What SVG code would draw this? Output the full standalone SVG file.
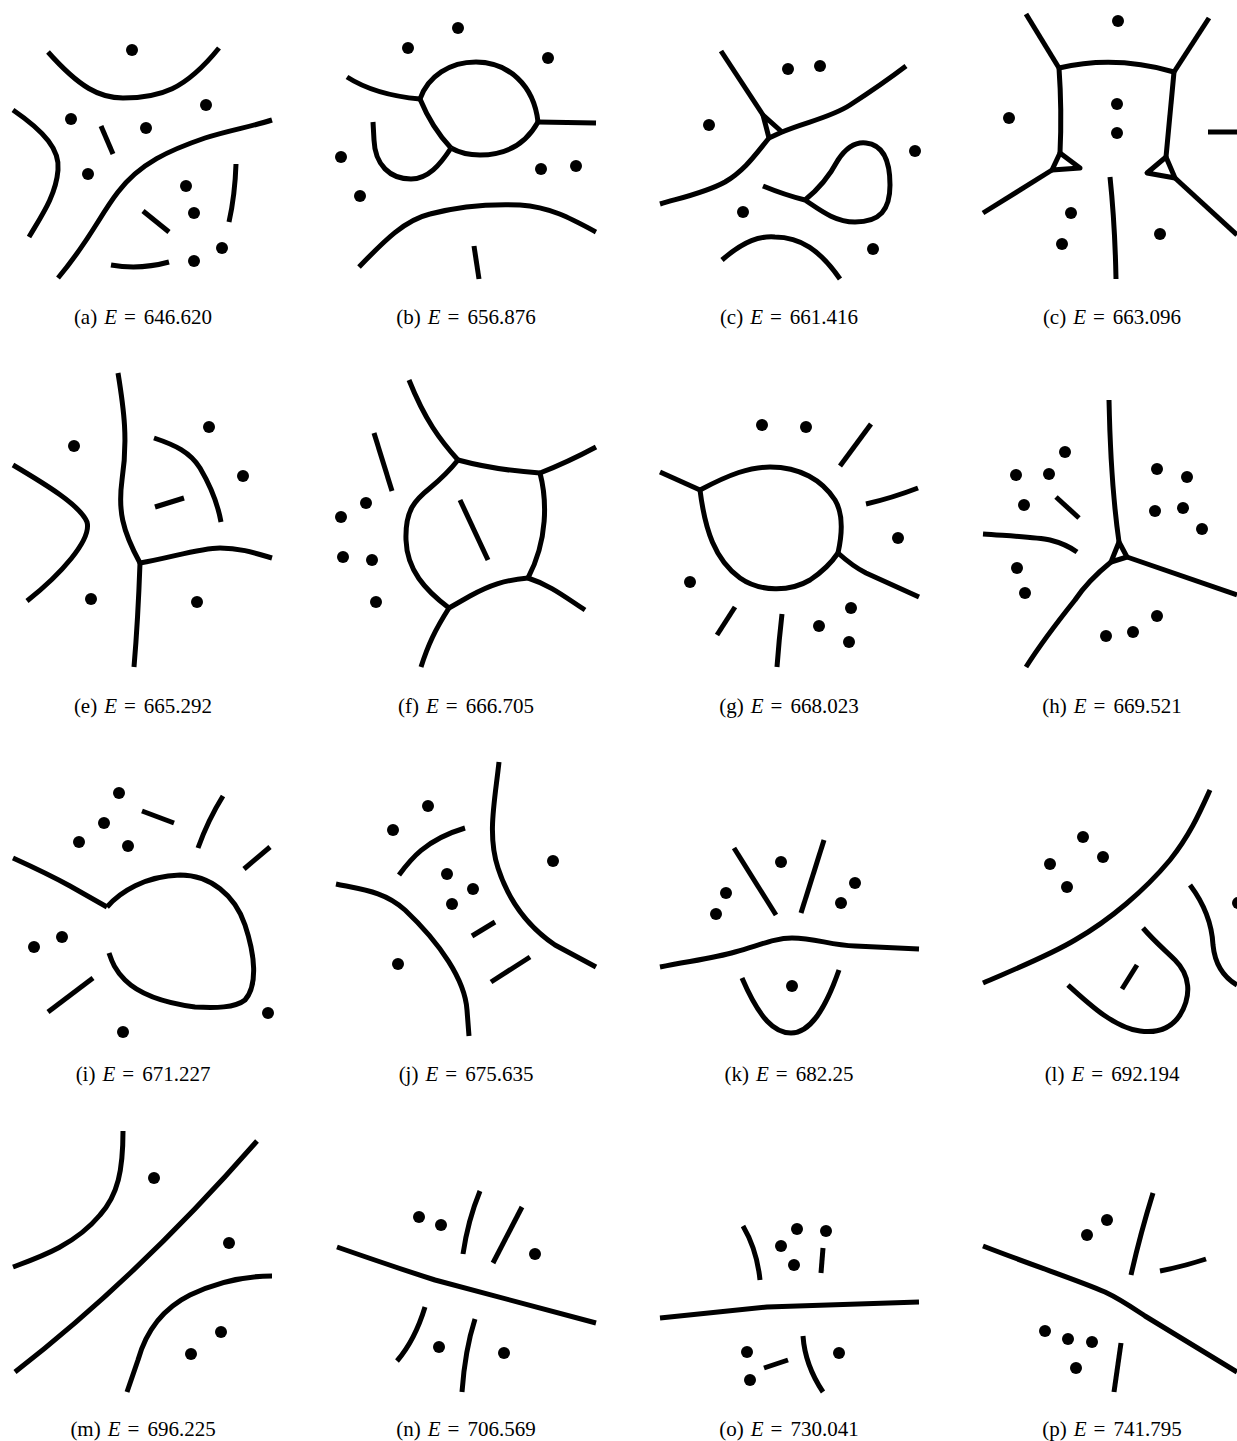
<svg xmlns="http://www.w3.org/2000/svg" width="1237" height="1441" viewBox="0 0 1237 1441">
<style>
.l{fill:none;stroke:#000;stroke-width:5;stroke-linejoin:round;stroke-linecap:butt}
.d{fill:#000}
.cap{font-family:"Liberation Serif","Times New Roman",serif;font-size:21px;fill:#000;text-anchor:middle}
.it{font-style:italic}
</style>
<rect width="1237" height="1441" fill="#fff"/>

<g id="panel-a">
<g class="l">
<path d="M48,52 C80,88 100,98 123,98 C160,98 185,90 219,48"/>
<path d="M13,110 C45,132 60,150 58,170 C56,195 42,215 29,237"/>
<path d="M101,126 L113,154"/>
<path d="M58,278 C90,240 100,215 118,192 C140,163 170,150 205,138 C230,130 250,127 272,120"/>
<path d="M143,211 L169,232"/>
<path d="M236,164 Q235,195 229,222"/>
<path d="M111,265 Q140,270 169,262"/>
</g>
<g class="d">
<circle cx="132" cy="50" r="6"/><circle cx="71" cy="119" r="6"/><circle cx="206" cy="105" r="6"/><circle cx="146" cy="128" r="6"/><circle cx="88" cy="174" r="6"/><circle cx="186" cy="186" r="6"/><circle cx="194" cy="213" r="6"/><circle cx="222" cy="248" r="6"/><circle cx="194" cy="261" r="6"/>
</g>
<text class="cap" x="143" y="324">(a)<tspan class="it" dx="7">E</tspan><tspan dx="7">=</tspan><tspan dx="8">646.620</tspan></text>
</g>

<g id="panel-b">
<g class="l">
<path d="M347,77 Q375,95 420,99"/>
<path d="M420,99 C428,76 450,62 476,62 C508,62 534,85 538,122"/>
<path d="M538,122 C528,140 510,155 480,155 C468,155 458,152 451,148"/>
<path d="M420,99 Q432,128 451,148"/>
<path d="M538,122 L596,123"/>
<path d="M451,148 C440,165 428,179 411,179 C390,179 375,165 374,140 L373,122"/>
<path d="M359,267 C385,240 405,220 430,214 C460,206 495,204 520,205 C550,207 570,218 596,232"/>
<path d="M474,246 L479,279"/>
</g>
<g class="d">
<circle cx="408" cy="48" r="6"/><circle cx="458" cy="28" r="6"/><circle cx="548" cy="58" r="6"/><circle cx="341" cy="157" r="6"/><circle cx="360" cy="196" r="6"/><circle cx="541" cy="169" r="6"/><circle cx="576" cy="166" r="6"/>
</g>
<text class="cap" x="466" y="324">(b)<tspan class="it" dx="7">E</tspan><tspan dx="7">=</tspan><tspan dx="8">656.876</tspan></text>
</g>

<g id="panel-c1">
<g class="l">
<path d="M721,51 L763,115"/>
<path d="M763,115 L769,138 L782,132 Z"/>
<path d="M782,132 C805,122 830,118 850,105 C870,92 885,82 906,66"/>
<path d="M769,138 C755,155 745,170 725,182 C705,193 680,198 660,204"/>
<path d="M763,186 Q785,195 805,200 C820,188 830,175 838,160 C848,145 858,142 866,143 C885,145 890,165 890,185 C890,210 880,222 855,222 C835,222 820,210 805,200"/>
<path d="M722,260 C745,240 760,236 775,237 C800,237 820,250 840,279"/>
</g>
<g class="d">
<circle cx="788" cy="69" r="6"/><circle cx="820" cy="66" r="6"/><circle cx="709" cy="125" r="6"/><circle cx="915" cy="151" r="6"/><circle cx="743" cy="212" r="6"/><circle cx="873" cy="249" r="6"/>
</g>
<text class="cap" x="789" y="324">(c)<tspan class="it" dx="7">E</tspan><tspan dx="7">=</tspan><tspan dx="8">661.416</tspan></text>
</g>

<g id="panel-c2">
<g class="l">
<path d="M1059,68 Q1115,55 1174,72"/>
<path d="M1026,14 L1059,68"/>
<path d="M1209,18 L1174,72"/>
<path d="M1059,68 Q1062,110 1060,153"/>
<path d="M1060,153 L1052,170 L1080,168 Z"/>
<path d="M1052,170 L983,213"/>
<path d="M1174,72 Q1170,115 1166,157"/>
<path d="M1166,157 L1147,173 L1175,178 Z"/>
<path d="M1175,178 L1237,235"/>
<path d="M1208,132 L1237,132"/>
<path d="M1110,177 Q1115,225 1116,279"/>
</g>
<g class="d">
<circle cx="1118" cy="21" r="6"/><circle cx="1009" cy="118" r="6"/><circle cx="1117" cy="104" r="6"/><circle cx="1117" cy="133" r="6"/><circle cx="1071" cy="213" r="6"/><circle cx="1062" cy="244" r="6"/><circle cx="1160" cy="234" r="6"/>
</g>
<text class="cap" x="1112" y="324">(c)<tspan class="it" dx="7">E</tspan><tspan dx="7">=</tspan><tspan dx="8">663.096</tspan></text>
</g>

<g id="panel-e">
<g class="l">
<path d="M13,465 C45,484 80,505 87,522 C92,540 60,575 27,601"/>
<path d="M118,373 C124,410 128,440 122,480 C118,510 122,530 140,563"/>
<path d="M140,563 Q138,620 134,667"/>
<path d="M140,563 C170,558 200,548 220,548 C240,548 255,553 272,558"/>
<path d="M154,438 C175,445 190,452 200,468 C210,485 218,505 221,522"/>
<path d="M155,507 L184,498"/>
</g>
<g class="d">
<circle cx="74" cy="446" r="6"/><circle cx="209" cy="427" r="6"/><circle cx="243" cy="476" r="6"/><circle cx="91" cy="599" r="6"/><circle cx="197" cy="602" r="6"/>
</g>
<text class="cap" x="143" y="713">(e)<tspan class="it" dx="7">E</tspan><tspan dx="7">=</tspan><tspan dx="8">665.292</tspan></text>
</g>

<g id="panel-f">
<g class="l">
<path d="M409,380 C425,420 440,440 458,460"/>
<path d="M458,460 Q495,470 540,473"/>
<path d="M540,473 Q568,462 596,447"/>
<path d="M540,473 C547,500 548,540 528,578"/>
<path d="M528,578 C505,580 490,585 470,596 L449,608"/>
<path d="M528,578 C550,585 565,597 585,610"/>
<path d="M449,608 C425,590 407,570 406,540 C405,510 415,500 430,488 C442,478 450,470 458,460"/>
<path d="M449,608 C435,630 428,645 421,667"/>
<path d="M374,433 L392,491"/>
<path d="M460,500 L488,560"/>
</g>
<g class="d">
<circle cx="366" cy="503" r="6"/><circle cx="341" cy="517" r="6"/><circle cx="343" cy="557" r="6"/><circle cx="372" cy="560" r="6"/><circle cx="376" cy="602" r="6"/>
</g>
<text class="cap" x="466" y="713">(f)<tspan class="it" dx="7">E</tspan><tspan dx="7">=</tspan><tspan dx="8">666.705</tspan></text>
</g>

<g id="panel-g">
<g class="l">
<path d="M700,490 C730,474 750,467 770,467 C800,467 822,480 835,500 C844,515 842,535 838,553"/>
<path d="M700,490 C705,530 715,560 740,578 C760,592 790,592 810,580 C825,570 832,562 838,553"/>
<path d="M660,472 L700,490"/>
<path d="M838,553 C848,562 856,568 866,573 L919,597"/>
<path d="M840,466 L871,424"/>
<path d="M866,504 Q892,498 918,488"/>
<path d="M717,635 L735,607"/>
<path d="M777,667 Q779,640 782,614"/>
</g>
<g class="d">
<circle cx="762" cy="425" r="6"/><circle cx="806" cy="427" r="6"/><circle cx="898" cy="538" r="6"/><circle cx="690" cy="582" r="6"/><circle cx="851" cy="608" r="6"/><circle cx="819" cy="626" r="6"/><circle cx="849" cy="642" r="6"/>
</g>
<text class="cap" x="789" y="713">(g)<tspan class="it" dx="7">E</tspan><tspan dx="7">=</tspan><tspan dx="8">668.023</tspan></text>
</g>

<g id="panel-h">
<g class="l">
<path d="M1109,400 C1110,450 1113,500 1119,542"/>
<path d="M1119,542 L1111,562 L1127,557 Z"/>
<path d="M1111,562 C1095,575 1085,585 1075,600 C1055,625 1040,645 1026,667"/>
<path d="M1127,557 L1237,595"/>
<path d="M983,534 C1010,536 1035,537 1050,540 C1062,543 1070,547 1077,552"/>
<path d="M1056,497 L1079,518"/>
</g>
<g class="d">
<circle cx="1065" cy="452" r="6"/><circle cx="1016" cy="475" r="6"/><circle cx="1049" cy="474" r="6"/><circle cx="1024" cy="505" r="6"/><circle cx="1157" cy="469" r="6"/><circle cx="1187" cy="477" r="6"/><circle cx="1155" cy="511" r="6"/><circle cx="1183" cy="508" r="6"/><circle cx="1202" cy="529" r="6"/><circle cx="1017" cy="568" r="6"/><circle cx="1025" cy="593" r="6"/><circle cx="1106" cy="636" r="6"/><circle cx="1133" cy="632" r="6"/><circle cx="1157" cy="616" r="6"/>
</g>
<text class="cap" x="1112" y="713">(h)<tspan class="it" dx="7">E</tspan><tspan dx="7">=</tspan><tspan dx="8">669.521</tspan></text>
</g>

<g id="panel-i">
<g class="l">
<path d="M13,858 C35,868 50,875 70,886 L107,907"/>
<path d="M107,907 C120,892 145,876 180,875 C210,875 235,895 245,925 C255,955 258,985 245,1000 C235,1008 215,1008 195,1007 C165,1003 140,995 125,980 C115,970 112,962 109,953"/>
<path d="M142,811 L174,823"/>
<path d="M223,796 Q208,820 198,848"/>
<path d="M270,847 L244,869"/>
<path d="M93,978 L48,1012"/>
</g>
<g class="d">
<circle cx="119" cy="793" r="6"/><circle cx="104" cy="823" r="6"/><circle cx="79" cy="842" r="6"/><circle cx="128" cy="846" r="6"/><circle cx="62" cy="937" r="6"/><circle cx="34" cy="947" r="6"/><circle cx="123" cy="1032" r="6"/><circle cx="268" cy="1013" r="6"/>
</g>
<text class="cap" x="143" y="1081">(i)<tspan class="it" dx="7">E</tspan><tspan dx="7">=</tspan><tspan dx="8">671.227</tspan></text>
</g>

<g id="panel-j">
<g class="l">
<path d="M499,762 C495,800 487,835 498,868 C510,905 530,928 555,945 L596,967"/>
<path d="M336,884 C365,890 385,892 405,910 C440,943 465,980 467,1010 L469,1036"/>
<path d="M399,875 C410,860 425,840 465,828"/>
<path d="M472,936 L495,922"/>
<path d="M491,982 L530,957"/>
</g>
<g class="d">
<circle cx="428" cy="806" r="6"/><circle cx="393" cy="830" r="6"/><circle cx="553" cy="861" r="6"/><circle cx="447" cy="874" r="6"/><circle cx="473" cy="889" r="6"/><circle cx="452" cy="904" r="6"/><circle cx="398" cy="964" r="6"/>
</g>
<text class="cap" x="466" y="1081">(j)<tspan class="it" dx="7">E</tspan><tspan dx="7">=</tspan><tspan dx="8">675.635</tspan></text>
</g>

<g id="panel-k">
<g class="l">
<path d="M660,967 C690,961 715,958 735,952 C760,945 775,938 792,938 C815,938 830,945 855,946 L919,949"/>
<path d="M742,978 C760,1020 775,1033 791,1033 C810,1033 825,1010 839,970"/>
<path d="M734,848 L776,915"/>
<path d="M824,840 L801,913"/>
</g>
<g class="d">
<circle cx="781" cy="862" r="6"/><circle cx="726" cy="893" r="6"/><circle cx="716" cy="914" r="6"/><circle cx="855" cy="883" r="6"/><circle cx="841" cy="903" r="6"/><circle cx="792" cy="986" r="6"/>
</g>
<text class="cap" x="789" y="1081">(k)<tspan class="it" dx="7">E</tspan><tspan dx="7">=</tspan><tspan dx="8">682.25</tspan></text>
</g>

<g id="panel-l">
<g class="l">
<path d="M983,983 C1020,967 1050,955 1075,940 C1110,920 1145,890 1170,860 C1190,835 1200,812 1210,790"/>
<path d="M1143,928 C1155,942 1165,950 1175,960 C1190,975 1192,995 1180,1015 C1170,1030 1155,1033 1140,1031 C1115,1028 1090,1005 1068,985"/>
<path d="M1137,965 L1122,989"/>
<path d="M1190,885 C1205,905 1212,925 1213,945 C1215,965 1225,978 1237,985"/>
</g>
<g class="d">
<circle cx="1083" cy="837" r="6"/><circle cx="1050" cy="864" r="6"/><circle cx="1103" cy="857" r="6"/><circle cx="1067" cy="887" r="6"/><circle cx="1238" cy="903" r="6"/>
</g>
<text class="cap" x="1112" y="1081">(l)<tspan class="it" dx="7">E</tspan><tspan dx="7">=</tspan><tspan dx="8">692.194</tspan></text>
</g>

<g id="panel-m">
<g class="l">
<path d="M123,1131 C123,1170 118,1195 100,1215 C75,1245 40,1257 13,1267"/>
<path d="M15,1372 Q140,1275 257,1141"/>
<path d="M272,1276 C240,1276 215,1283 190,1295 C160,1310 145,1335 138,1360 L127,1392"/>
</g>
<g class="d">
<circle cx="154" cy="1178" r="6"/><circle cx="229" cy="1243" r="6"/><circle cx="221" cy="1332" r="6"/><circle cx="191" cy="1354" r="6"/>
</g>
<text class="cap" x="143" y="1436">(m)<tspan class="it" dx="7">E</tspan><tspan dx="7">=</tspan><tspan dx="8">696.225</tspan></text>
</g>

<g id="panel-n">
<g class="l">
<path d="M337,1247 C380,1262 410,1272 435,1280 L596,1323"/>
<path d="M480,1191 Q468,1220 463,1254"/>
<path d="M522,1207 L493,1263"/>
<path d="M425,1307 Q415,1340 397,1361"/>
<path d="M475,1319 Q465,1350 462,1392"/>
</g>
<g class="d">
<circle cx="419" cy="1217" r="6"/><circle cx="441" cy="1225" r="6"/><circle cx="535" cy="1254" r="6"/><circle cx="439" cy="1347" r="6"/><circle cx="504" cy="1353" r="6"/>
</g>
<text class="cap" x="466" y="1436">(n)<tspan class="it" dx="7">E</tspan><tspan dx="7">=</tspan><tspan dx="8">706.569</tspan></text>
</g>

<g id="panel-o">
<g class="l">
<path d="M660,1318 C700,1314 735,1310 767,1307 L919,1302"/>
<path d="M743,1226 Q757,1250 760,1280"/>
<path d="M823,1248 L821,1273"/>
<path d="M764,1368 L788,1360"/>
<path d="M803,1336 Q805,1365 823,1392"/>
</g>
<g class="d">
<circle cx="797" cy="1229" r="6"/><circle cx="826" cy="1231" r="6"/><circle cx="781" cy="1246" r="6"/><circle cx="794" cy="1265" r="6"/><circle cx="747" cy="1352" r="6"/><circle cx="750" cy="1380" r="6"/><circle cx="839" cy="1353" r="6"/>
</g>
<text class="cap" x="789" y="1436">(o)<tspan class="it" dx="7">E</tspan><tspan dx="7">=</tspan><tspan dx="8">730.041</tspan></text>
</g>

<g id="panel-p">
<g class="l">
<path d="M983,1246 C1040,1268 1080,1281 1105,1292 C1120,1299 1130,1306 1145,1316 L1237,1372"/>
<path d="M1153,1193 Q1140,1235 1131,1275"/>
<path d="M1160,1271 Q1185,1266 1206,1259"/>
<path d="M1121,1343 L1114,1392"/>
</g>
<g class="d">
<circle cx="1107" cy="1220" r="6"/><circle cx="1087" cy="1235" r="6"/><circle cx="1045" cy="1331" r="6"/><circle cx="1068" cy="1339" r="6"/><circle cx="1092" cy="1342" r="6"/><circle cx="1076" cy="1368" r="6"/>
</g>
<text class="cap" x="1112" y="1436">(p)<tspan class="it" dx="7">E</tspan><tspan dx="7">=</tspan><tspan dx="8">741.795</tspan></text>
</g>
</svg>
